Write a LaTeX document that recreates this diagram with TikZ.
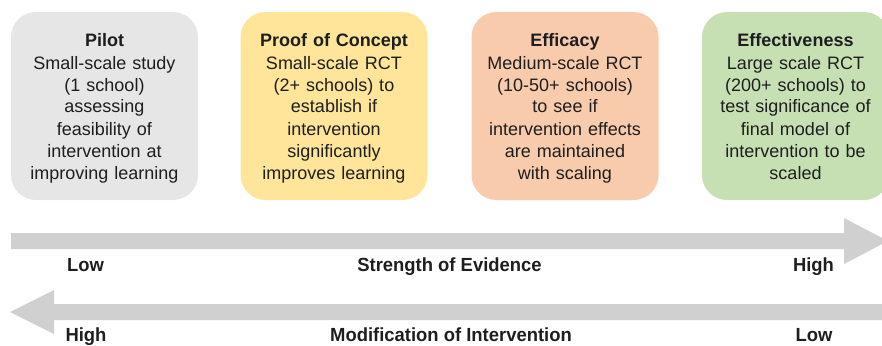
\documentclass[tikz,border=0pt]{standalone}
\usepackage{fontspec}
\setmainfont{Liberation Sans}
\newfontfamily\narrowsans[FakeStretch=0.97]{Liberation Sans}
\usepackage{tikz}
\usepackage{xcolor}
\usetikzlibrary{positioning,calc}
\definecolor{stgray}{HTML}{E6E6E6}
\definecolor{styellow}{HTML}{FFE599}
\definecolor{storange}{HTML}{F8CBAD}
\definecolor{stgreen}{HTML}{C6E0B4}
\definecolor{arrowgray}{HTML}{D0D0D0}
\definecolor{txtdark}{HTML}{1E1E1E}

\begin{document}
\begin{tikzpicture}[x=1pt, y=-1pt,
  stage/.style     ={rectangle, rounded corners=25pt, minimum width=187pt, minimum height=188pt, inner sep=0pt},
  stagetext/.style ={anchor=north, inner sep=0pt, text width=186pt, align=center, text=txtdark,
                     font=\fontsize{18}{22}\selectfont},
  scalelabel/.style={anchor=base, inner sep=0pt, text=txtdark, font=\narrowsans\bfseries\fontsize{19}{22}\selectfont},
]
\useasboundingbox (0,0) rectangle (882,345);

% stages
\node[stage, fill=stgray]   (pilot)  at (104.5,106) {};
\node[stage, fill=styellow] (proof)  at (334,106)   {};
\node[stage, fill=storange] (effic)  at (565,106)   {};
\node[stage, fill=stgreen]  (effect) at (795.5,106) {};

\node[stagetext] (pilot-txt) at ([yshift=-19.6pt]pilot.north)
  {\strut\textbf{Pilot}\\Small-scale study\\(1 school)\\assessing\\feasibility of\\intervention at\\improving learning};
\node[stagetext] (proof-txt) at ([yshift=-19.6pt]proof.north)
  {\strut\textbf{Proof of Concept}\\Small-scale RCT\\(2+ schools) to\\establish if\\intervention\\significantly\\improves learning};
\node[stagetext] (effic-txt) at ([yshift=-19.6pt]effic.north)
  {\strut\textbf{Efficacy}\\Medium-scale RCT\\(10-50+ schools)\\to see if\\intervention effects\\are maintained\\with scaling};
\node[stagetext] (effect-txt) at ([yshift=-19.6pt]effect.north)
  {\strut\textbf{Effectiveness}\\Large scale RCT\\(200+ schools) to\\test significance of\\final model of\\intervention to be\\scaled};

% block arrows
\fill[arrowgray] (11,233) -- (844,233) -- (844,218) -- (888,241) -- (844,264)
  -- (844,249) -- (11,249) -- cycle;
\fill[arrowgray] (10,312) -- (54,290) -- (54,304) -- (892,304) -- (892,320)
  -- (54,320) -- (54,334) -- cycle;

% scale labels
\node[scalelabel] (ev-low)  at (85.5,271)  {Low};
\node[scalelabel] (ev-name) at (449.5,271) {Strength of Evidence};
\node[scalelabel] (ev-high) at (813.5,271) {High};
\node[scalelabel] (mod-high) at (86,341)   {High};
\node[scalelabel] (mod-name) at (451,341)  {Modification of Intervention};
\node[scalelabel] (mod-low)  at (814,341)  {Low};
\end{tikzpicture}
\end{document}
